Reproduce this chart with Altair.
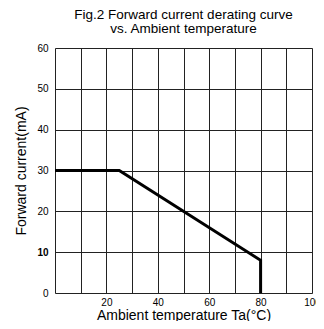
import altair as alt
import pandas as pd

# Derating curve points
temps = [0, 25, 80, 80]
currents = [30, 30, 8, 0]
order = [0, 1, 2, 3]

x_grid = [0, 10, 20, 30, 40, 50, 60, 70, 80, 90, 100]
y_grid = [0, 10, 20, 30, 40, 50, 60]

df = pd.DataFrame({"Ta": temps, "IF": currents, "o": order})

FONT = "Liberation Sans"

chart = alt.Chart(df).mark_line(color="black", strokeWidth=3, strokeJoin="miter").encode(
    x=alt.X("Ta:Q",
            scale=alt.Scale(domain=[0, 100], nice=False),
            axis=alt.Axis(values=x_grid, title="Ambient temperature Ta(°C)",
                          labelExpr="(datum.value % 20 == 0 && datum.value > 0) ? datum.label : ''",
                          labelFlush=False,
                          grid=True, gridColor="#222", gridWidth=1, gridOpacity=1,
                          tickSize=0, domain=False, labelPadding=4,
                          labelFontSize=10, labelColor="black", labelFont=FONT,
                          titleFontSize=14, titleFontWeight="normal", titleColor="black",
                          titleFont=FONT, titlePadding=1)),
    y=alt.Y("IF:Q",
            scale=alt.Scale(domain=[0, 60], nice=False),
            axis=alt.Axis(values=y_grid, title="Forward current(mA)",
                          grid=True, gridColor="#222", gridWidth=1, gridOpacity=1,
                          tickSize=0, domain=False, labelPadding=7,
                          labelFontSize=10, labelColor="black", labelFont=FONT,
                          labelFontWeight={"condition": {"test": "datum.value == 10", "value": "bold"}, "value": "normal"},
                          titleFontSize=14, titleFontWeight="normal", titleColor="black",
                          titleFont=FONT, titlePadding=8)),
    order="o:Q",
).properties(
    width=257,
    height=245,
    autosize=alt.AutoSizeParams(type="none"),
    padding={"left": 47, "top": 40, "right": 4, "bottom": 28},
    title=alt.TitleParams(
        text=["Fig.2 Forward current derating curve", "vs. Ambient temperature"],
        fontSize=13.5, fontWeight="normal", font=FONT, color="black",
        anchor="middle", offset=8, lineHeight=14,
    ),
).configure_view(stroke="black", strokeWidth=1.5).configure(background="white")

chart.save("out.html", embed_options={"renderer": "svg", "actions": False})
